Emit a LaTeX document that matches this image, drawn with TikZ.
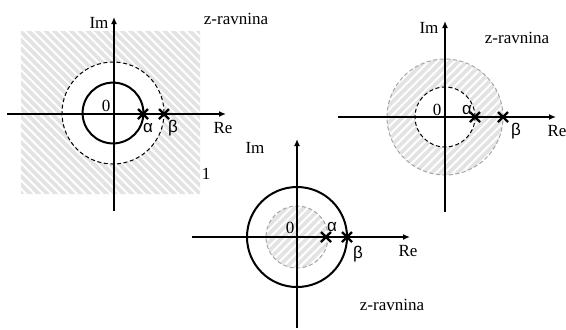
\documentclass[tikz,border=0pt]{standalone}
\usepackage{fontspec}
\setmainfont{Liberation Serif}
\newfontfamily\sansgr{Liberation Sans}
\usetikzlibrary{arrows.meta,patterns.meta,shapes.misc}
\begin{document}
\begin{tikzpicture}[x=0.5pt,y=-0.5pt,
  axis/.style={line width=1pt,-{Latex[length=3.5pt,width=3pt]}},
  lbl/.style={font=\fontsize{8.5}{10}\selectfont, inner sep=0pt},
  grk/.style={font=\fontsize{8.5}{10}\selectfont\sansgr, inner sep=0pt},
  zcross/.style={draw, cross out, minimum size=3.8pt, inner sep=0pt, line width=1.2pt},
  shade/.style={fill=gray!22},
  stripesA/.style={pattern={Lines[angle=-45,distance=3pt,line width=1pt]}, pattern color=white},
  stripesB/.style={pattern={Lines[angle=45,distance=3pt,line width=1pt]}, pattern color=white},
  dashblack/.style={line width=0.5pt, dash pattern=on 2pt off 1.3pt},
  dashgray/.style={line width=0.5pt, gray!70, dash pattern=on 2pt off 1.3pt},
  solidc/.style={line width=1pt}]
\useasboundingbox (0,0) rectangle (566,329);

% ---------- diagram 1 ----------
\fill[shade, even odd rule] (21,31) rectangle (200,194) (113,113) circle[radius=25.5pt];
\fill[stripesA, even odd rule] (21,31) rectangle (200,194) (113,113) circle[radius=25.5pt];
\draw[dashblack] (113,113) circle[radius=25.5pt];
\draw[solidc] (113,113) circle[radius=15.2pt];
\coordinate (h1s) at (7,114);  \coordinate (h1e) at (226,114);
\coordinate (v1s) at (114,211); \coordinate (v1e) at (114,17);
\draw[axis] (h1s) -- (h1e);
\draw[axis] (v1s) -- (v1e);
\node[zcross] (a1) at (143,114) {};
\node[zcross] (b1) at (164,114) {};
\node[lbl] (im1) at (99,23) {Im};
\node[lbl] (re1) at (223,128) {Re};
\node[lbl] (o1) at (106,106) {0};
\node[grk] (al1) at (148,128) {α};
\node[grk] (be1) at (173,128) {β};
\node[lbl] (z1) at (236,19) {z-ravnina};
\node[lbl] (one1) at (206,174) {1};

% ---------- diagram 2 ----------
\fill[shade, even odd rule] (445,117) circle[radius=29pt] (445,117) circle[radius=15pt];
\fill[stripesB, even odd rule] (445,117) circle[radius=29pt] (445,117) circle[radius=15pt];
\draw[dashgray] (445,117) circle[radius=29pt];
\draw[dashblack] (445,117) circle[radius=15pt];
\coordinate (h2s) at (338,117); \coordinate (h2e) at (556,117);
\coordinate (v2s) at (445,212); \coordinate (v2e) at (445,21);
\draw[axis] (h2s) -- (h2e);
\draw[axis] (v2s) -- (v2e);
\node[zcross] (a2) at (475,117) {};
\node[zcross] (b2) at (503,117) {};
\node[lbl] (im2) at (429,28) {Im};
\node[lbl] (re2) at (557,131) {Re};
\node[lbl] (o2) at (437,110) {0};
\node[grk] (al2) at (467,110) {α};
\node[grk] (be2) at (516,131) {β};
\node[lbl] (z2) at (517,38) {z-ravnina};

% ---------- diagram 3 ----------
\fill[shade] (297,237) circle[radius=15.5pt];
\fill[stripesB] (297,237) circle[radius=15.5pt];
\draw[dashgray] (297,237) circle[radius=15.5pt];
\draw[solidc] (297,237) circle[radius=25pt];
\coordinate (h3s) at (192,237); \coordinate (h3e) at (410,237);
\coordinate (v3s) at (297,328); \coordinate (v3e) at (297,139);
\draw[axis] (h3s) -- (h3e);
\draw[axis] (v3s) -- (v3e);
\node[zcross] (a3) at (326,237) {};
\node[zcross] (b3) at (347,237) {};
\node[lbl] (im3) at (255,148) {Im};
\node[lbl] (re3) at (408,251) {Re};
\node[lbl] (o3) at (290,228) {0};
\node[grk] (al3) at (332,227) {α};
\node[grk] (be3) at (358,254) {β};
\node[lbl] (z3) at (392,305) {z-ravnina};
\end{tikzpicture}
\end{document}
